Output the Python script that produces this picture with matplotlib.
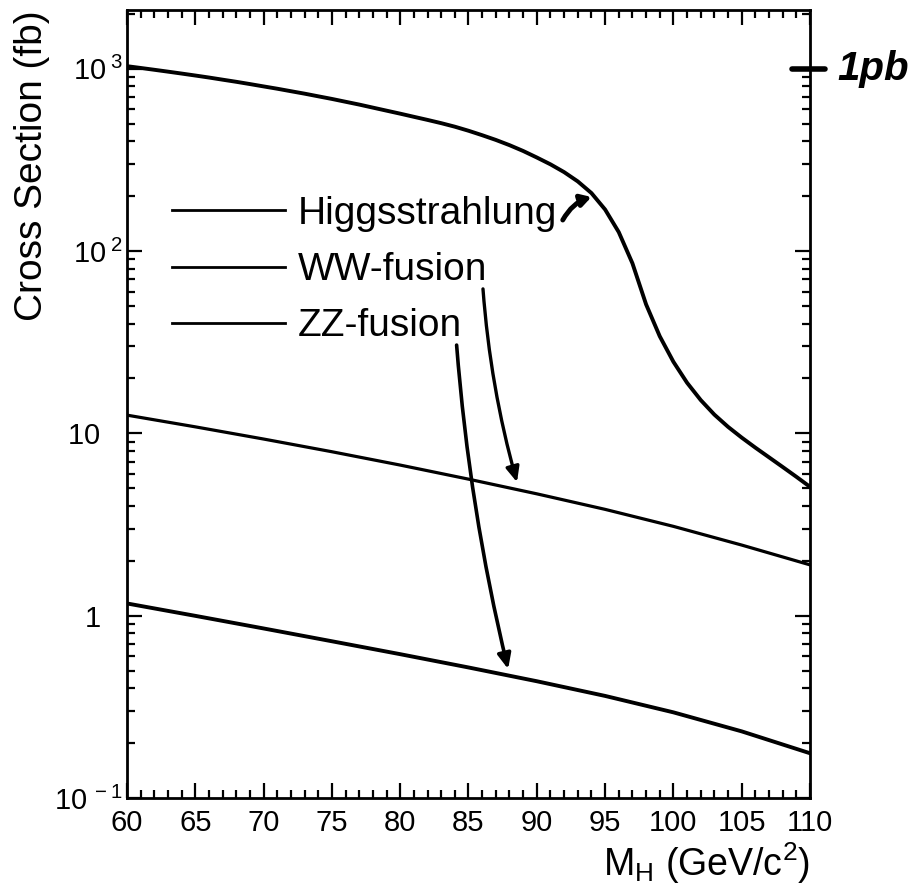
import numpy as np
import matplotlib
matplotlib.use("Agg")
import matplotlib.pyplot as plt
from matplotlib.ticker import MultipleLocator, LogLocator, FixedLocator, FixedFormatter, NullFormatter

# ---------------- data ----------------
mh_hz = [60, 61, 62, 63, 64, 65, 66, 67, 68, 69, 70, 71, 72, 73, 74, 75, 76, 77, 78, 79,
         80, 81, 82, 83, 84, 85, 86, 87, 88, 89, 90, 91, 92, 93, 94, 95, 96, 97, 98, 99,
         100, 101, 102, 103, 104, 105, 106, 107, 108, 109, 110]
xs_hz = [1033, 1010, 987, 964, 941, 918, 895, 871, 848, 824, 800, 777, 753, 730, 706,
         683, 659, 636, 612, 589, 567, 545, 524, 503, 481, 457, 432, 407, 381, 354,
         326, 299, 271, 241, 208, 169, 127, 85.7, 51.0, 34.1, 24.7, 18.95, 15.23,
         12.67, 10.86, 9.48, 8.35, 7.39, 6.54, 5.78, 5.09]

mh_fus = [60, 65, 70, 75, 80, 85, 90, 95, 100, 105, 110]
xs_ww = [12.59, 10.86, 9.31, 7.93, 6.70, 5.61, 4.66, 3.83, 3.09, 2.44, 1.90]
xs_zz = [1.167, 0.998, 0.851, 0.724, 0.615, 0.520, 0.437, 0.363, 0.295, 0.232, 0.176]

labels = ["Higgsstrahlung", "WW-fusion", "ZZ-fusion"]

ytick_vals = [0.1, 1, 10, 100, 1000]
ytick_labels = [r"$\mathregular{10^{\;-1}}$", r"$\mathregular{1}$",
                r"$\mathregular{10}$", r"$\mathregular{10^{\;2}}$",
                r"$\mathregular{10^{\;3}}$"]

# ---------------- style ----------------
plt.rcParams['font.family'] = ['Liberation Sans', 'DejaVu Sans']
plt.rcParams['mathtext.fontset'] = 'custom'
plt.rcParams['mathtext.rm'] = 'Liberation Sans'
plt.rcParams['mathtext.it'] = 'Liberation Sans'
plt.rcParams['mathtext.bf'] = 'Liberation Sans:bold'
plt.rcParams['axes.unicode_minus'] = False

fig = plt.figure(figsize=(9.11, 8.86), dpi=100)
ax = fig.add_axes([127/911, 1-798/886, (810-127)/911, (798-10)/886])

ax.plot(mh_hz, xs_hz, color='black', lw=2.8, label=labels[0])
ax.plot(mh_fus, xs_ww, color='black', lw=2.3, label=labels[1])
ax.plot(mh_fus, xs_zz, color='black', lw=2.8, label=labels[2])

ax.set_yscale('log')
ax.set_xlim(60, 110)
ax.set_ylim(0.1, 2100)

ax.xaxis.set_major_locator(MultipleLocator(5))
ax.xaxis.set_minor_locator(MultipleLocator(1))
ax.yaxis.set_major_locator(FixedLocator(ytick_vals))
ax.yaxis.set_major_formatter(FixedFormatter(ytick_labels))
ax.yaxis.set_minor_locator(LogLocator(base=10, subs=np.arange(2, 10)))
ax.yaxis.set_minor_formatter(NullFormatter())

for s in ax.spines.values():
    s.set_linewidth(2.0)

ax.tick_params(which='both', direction='in', top=True, right=True, width=1.6, colors='black')
ax.tick_params(which='major', length=11, labelsize=21)
ax.tick_params(which='minor', length=5.5)
ax.tick_params(axis='x', which='major', pad=8)
ax.tick_params(axis='y', which='major', pad=3)

ax.set_ylabel("Cross Section (fb)", fontsize=28, ha='right')
ax.yaxis.set_label_coords(-0.113, 1.0)
ax.yaxis.label.set_verticalalignment('bottom')

ax.set_xlabel(r"$\mathregular{M_{H}}$ (GeV/c$\mathregular{^{2}}$)", fontsize=27, ha='right', va='top')
ax.xaxis.set_label_coords(1.0, -0.054)

leg = ax.legend(loc='upper left', bbox_to_anchor=(0.066, 0.764), frameon=False,
                fontsize=28, handlelength=2.9, handletextpad=0.33, labelspacing=0.52,
                borderpad=0, borderaxespad=0)
for ln in leg.get_lines():
    ln.set_linewidth(2.0)

# hand-drawn arrows
ax.annotate('', xy=(94.0, 198), xytext=(91.9, 148),
            arrowprops=dict(arrowstyle='-|>,head_length=0.6,head_width=0.35', color='black',
                            lw=3.5, connectionstyle='arc3,rad=-0.2', shrinkA=0, shrinkB=0))
ax.annotate('', xy=(88.55, 5.4), xytext=(86.06, 62),
            arrowprops=dict(arrowstyle='-|>,head_length=0.9,head_width=0.4', color='black',
                            lw=2.4, connectionstyle='arc3,rad=0.05', shrinkA=0, shrinkB=0))
ax.annotate('', xy=(87.9, 0.51), xytext=(84.13, 30.5),
            arrowprops=dict(arrowstyle='-|>,head_length=0.9,head_width=0.4', color='black',
                            lw=2.6, connectionstyle='arc3,rad=0.04', shrinkA=0, shrinkB=0))

# hand-written "1 pb" mark
ax.plot([108.7, 111.1], [1000, 1000], color='black', lw=4, clip_on=False, solid_capstyle='round')
ax.text(112.0, 1000, "1pb", fontsize=29, fontweight='bold', style='italic',
        ha='left', va='center', clip_on=False)

# plain labels (1, 10) sit further from the axis than the ones with exponents
yticks = ax.yaxis.get_major_ticks()
for i, v in enumerate(ytick_vals):
    if v in (1, 10):
        yticks[i].set_pad(19)

fig.savefig("out.png", dpi=100)
